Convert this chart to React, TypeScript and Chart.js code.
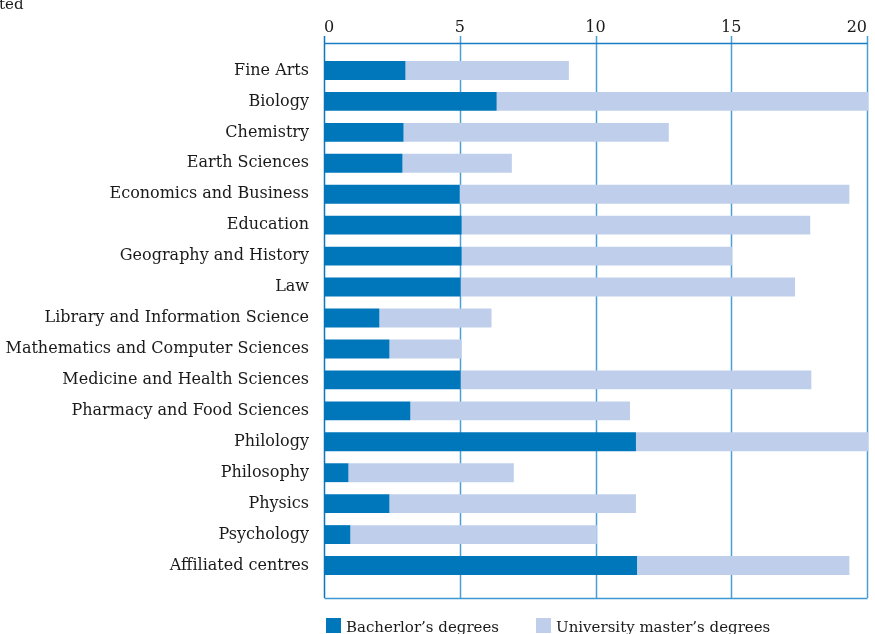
import { useEffect, useRef } from 'react';
import { Chart, registerables } from 'chart.js';

Chart.register(...registerables);

const categories = [
  'Fine Arts',
  'Biology',
  'Chemistry',
  'Earth Sciences',
  'Economics and Business',
  'Education',
  'Geography and History',
  'Law',
  'Library and Information Science',
  'Mathematics and Computer Sciences',
  'Medicine and Health Sciences',
  'Pharmacy and Food Sciences',
  'Philology',
  'Philosophy',
  'Physics',
  'Psychology',
  'Affiliated centres',
];

const bachelors = [3.0, 6.36, 2.93, 2.89, 5.0, 5.07, 5.07, 5.03, 2.04, 2.41, 5.03, 3.18, 11.49, 0.9, 2.41, 0.97, 11.53];
const masters = [6.02, 13.69, 9.77, 4.03, 14.35, 12.84, 9.96, 12.32, 4.13, 2.66, 12.92, 8.09, 8.56, 6.09, 9.08, 9.08, 7.82];

const seriesLabels = ['Bacherlor\u2019s degrees', 'University master\u2019s degrees'];
const seriesColors = ['#0077bb', '#bfcfeb'];
const xTicks = [0, 5, 10, 15, 20];
const cornerText = 'ted';

const FONT = '"DejaVu Serif", serif';
const TEXT = '#1a1a1a';

const framePlugin = {
  id: 'frame',
  beforeDatasetsDraw(chart: any) {
    const { ctx, chartArea, scales } = chart;
    const x = scales.x;
    const axisY = chartArea.top - 12;
    const tickTop = chartArea.top - 19;
    const bottom = chartArea.bottom + 17;
    ctx.save();
    x.ticks.forEach((t: any, i: number) => {
      const px = Math.round(x.getPixelForValue(t.value)) + 0.5;
      ctx.beginPath();
      ctx.strokeStyle = i === 0 ? '#0f75bc' : '#4a9fd6';
      ctx.lineWidth = 1.5;
      ctx.moveTo(px, tickTop);
      ctx.lineTo(px, bottom);
      ctx.stroke();
    });
    const x0 = Math.round(x.getPixelForValue(xTicks[0])) + 0.5;
    const x1 = Math.round(x.getPixelForValue(xTicks[xTicks.length - 1])) + 0.5;
    ctx.beginPath();
    ctx.strokeStyle = '#1a7cc2';
    ctx.lineWidth = 1.5;
    ctx.moveTo(x0, axisY + 0.5);
    ctx.lineTo(x1, axisY + 0.5);
    ctx.stroke();
    ctx.beginPath();
    ctx.strokeStyle = '#3f97d3';
    ctx.moveTo(x0, bottom + 0.5);
    ctx.lineTo(x1, bottom + 0.5);
    ctx.stroke();
    ctx.restore();
  },
  afterDraw(chart: any) {
    const { ctx, chartArea } = chart;
    ctx.save();
    ctx.font = '15px ' + FONT;
    ctx.textBaseline = 'alphabetic';
    ctx.textAlign = 'left';
    let lx = chartArea.left + 2;
    const ly = chartArea.bottom + 37;
    chart.data.datasets.forEach((ds: any) => {
      ctx.fillStyle = ds.backgroundColor;
      ctx.fillRect(lx, ly, 15, 15);
      ctx.fillStyle = TEXT;
      ctx.fillText(ds.label, lx + 20, ly + 14);
      lx += 20 + ctx.measureText(ds.label).width + 37;
    });
    ctx.font = '15px ' + FONT;
    ctx.fillText(cornerText, -1, 9);
    ctx.restore();
  },
};

export default function App() {
  const ref = useRef<HTMLCanvasElement | null>(null);
  useEffect(() => {
    if (!ref.current) return;
    const chart = new Chart(ref.current, {
      type: 'bar',
      data: {
        labels: categories,
        datasets: [
          { label: seriesLabels[0], data: bachelors, backgroundColor: seriesColors[0], barPercentage: 0.61, categoryPercentage: 1, clip: false as any },
          { label: seriesLabels[1], data: masters, backgroundColor: seriesColors[1], barPercentage: 0.61, categoryPercentage: 1, clip: false as any },
        ],
      },
      options: {
        indexAxis: 'y',
        responsive: false,
        animation: false,
        layout: { padding: { left: 0, right: 8, top: 0, bottom: 53 } },
        plugins: { legend: { display: false }, tooltip: { enabled: false } },
        scales: {
          x: {
            position: 'top',
            stacked: true,
            min: 0,
            max: 20,
            afterBuildTicks: (s: any) => {
              s.ticks = xTicks.map((v) => ({ value: v }));
            },
            afterFit: (s: any) => {
              s.height = 55;
              s.paddingLeft = 0;
              s.paddingRight = 0;
            },
            grid: { display: false, drawTicks: false, tickLength: 0 },
            border: { display: false },
            ticks: { color: TEXT, font: { family: FONT, size: 16 }, padding: 18, maxRotation: 0, align: 'inner' },
          },
          y: {
            stacked: true,
            afterFit: (s: any) => {
              s.width = 324;
              s.paddingTop = 0;
              s.paddingBottom = 0;
            },
            grid: { display: false, drawTicks: false, tickLength: 0 },
            border: { display: false },
            ticks: { color: TEXT, font: { family: FONT, size: 16 }, padding: 15, autoSkip: false },
          },
        },
      },
      plugins: [framePlugin],
    });
    return () => chart.destroy();
  }, []);
  return (
    <div style={{ position: 'fixed', left: 0, top: 0, width: 875, height: 634, background: '#fff' }}>
      <canvas ref={ref} width={875} height={634} style={{ display: 'block' }} />
    </div>
  );
}
